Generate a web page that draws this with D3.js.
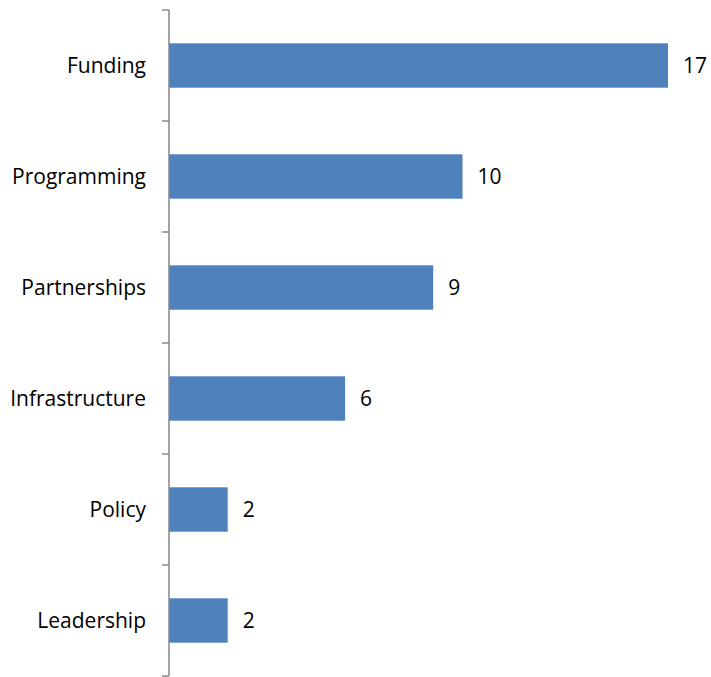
<!DOCTYPE html>
<html>
<head>
<meta charset="utf-8">
<script src="https://cdn.jsdelivr.net/npm/d3@7"></script>
<style>
  body { margin: 0; background: #fff; }
  text { font-family: "Open Sans", sans-serif; fill: #000; }
</style>
</head>
<body>
<div id="container"></div>
<script>
const categories = ["Funding", "Programming", "Partnerships", "Infrastructure", "Policy", "Leadership"];
const counts = [17, 10, 9, 6, 2, 2];

const width = 711;
const height = 677;
const axisX = 169;

const svg = d3
  .select("#container")
  .append("svg")
  .attr("width", width)
  .attr("height", height);

const x = d3.scaleLinear().domain([0, 17]).range([axisX, 668]);

const y = d3
  .scaleBand()
  .domain(categories)
  .range([10, 676])
  .paddingInner(0.6)
  .paddingOuter(0.3);

const data = categories.map((name, i) => ({ name, value: counts[i] }));

svg
  .selectAll("rect.bar")
  .data(data)
  .join("rect")
  .attr("class", "bar")
  .attr("x", x(0))
  .attr("y", (d) => y(d.name))
  .attr("width", (d) => x(d.value) - x(0))
  .attr("height", y.bandwidth())
  .attr("fill", "#4f81bd");

// value labels
svg
  .selectAll("text.value")
  .data(data)
  .join("text")
  .attr("class", "value")
  .attr("x", (d) => x(d.value) + 15)
  .attr("y", (d) => y(d.name) + y.bandwidth() / 2)
  .attr("dy", "0.37em")
  .attr("font-size", 21)
  .text((d) => d.value);

// category axis: line, ticks at band boundaries, labels
const step = y.step();
const bounds = d3.range(categories.length + 1).map((i) => y.range()[0] + i * step);

const axis = svg.append("g").attr("stroke", "#868686").attr("stroke-width", 1.5);
axis
  .append("line")
  .attr("x1", axisX)
  .attr("x2", axisX)
  .attr("y1", bounds[0])
  .attr("y2", bounds[bounds.length - 1]);
axis
  .selectAll("line.tick")
  .data(bounds)
  .join("line")
  .attr("class", "tick")
  .attr("x1", axisX - 7)
  .attr("x2", axisX)
  .attr("y1", (d) => d)
  .attr("y2", (d) => d);

svg
  .selectAll("text.cat")
  .data(categories)
  .join("text")
  .attr("class", "cat")
  .attr("x", axisX - 23)
  .attr("y", (d) => y(d) + y.bandwidth() / 2)
  .attr("dy", "0.37em")
  .attr("text-anchor", "end")
  .attr("font-size", 21)
  .text((d) => d);
</script>
</body>
</html>
